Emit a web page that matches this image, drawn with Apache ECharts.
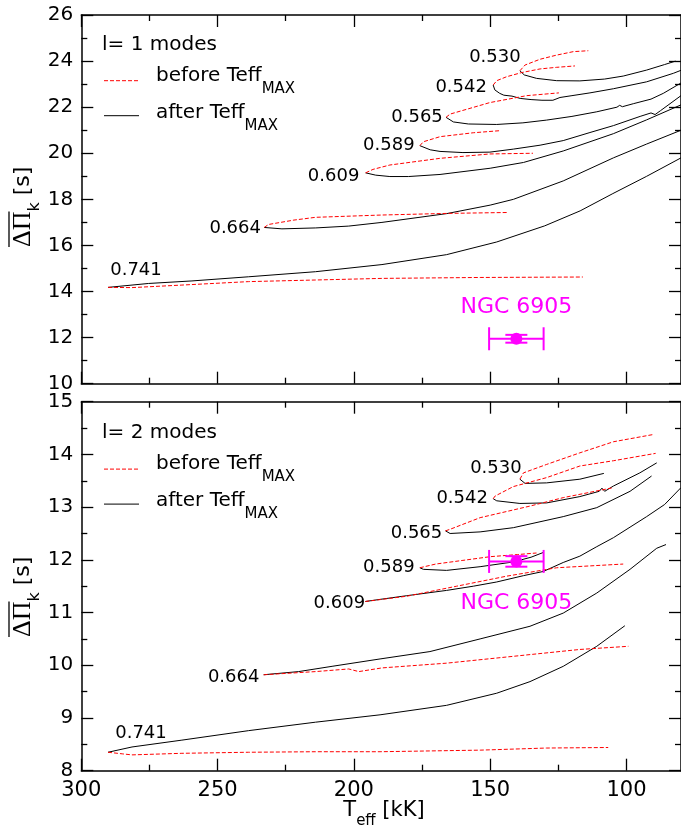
<!DOCTYPE html>
<html><head><meta charset="utf-8">
<script src="https://cdn.jsdelivr.net/npm/echarts@6/dist/echarts.min.js"></script>
<style>html,body{margin:0;padding:0;background:#fff}#c{width:681px;height:832px}</style>
</head><body><div id="c"></div>
<script>
// ---------- tick labels ----------
const xMajor = [100, 150, 200, 250, 300];
const xMinor = [125, 175, 225, 275];
const massLabels = ['0.530', '0.542', '0.565', '0.589', '0.609', '0.664', '0.741'];

// ---------- l = 1 (top panel): [Teff kK, mean period spacing s] ----------
const l1_530_before = [[139.1,23.58],[137.2,23.83],[131.7,24.08],[125.6,24.26],[119.5,24.41],[114,24.45]];
const l1_530_after  = [[139.1,23.58],[137.5,23.4],[133,23.25],[125.6,23.15],[117.1,23.14],[108,23.22],[101.2,23.35],[92.6,23.61],[86,23.85],[82,24.0]];
const l1_542_before = [[148.9,22.96],[147.6,23.15],[144,23.32],[138.5,23.5],[131.7,23.66],[125.6,23.73],[118.9,23.79]];
const l1_542_after  = [[148.9,22.96],[148.3,22.75],[146.5,22.6],[145,22.52],[142,22.48],[139,22.38],[135,22.33],[131,22.3],[127,22.3],[124.4,22.42],[120,22.5],[113.4,22.62],[104.8,22.8],[92.6,23.1],[82.8,23.47],[80,23.6]];
const l1_565_before = [[166.2,21.56],[164.7,21.7],[150.1,22.2],[136.6,22.5],[124.8,22.62]];
const l1_565_after  = [[166.2,21.56],[163.5,21.36],[158,21.27],[147.6,21.25],[138,21.32],[129.3,21.44],[120,21.6],[110.9,21.8],[103.5,22.0],[102.5,22.08],[101.5,22.02],[97.5,22.15],[91,22.35],[86.5,22.6],[80,23.05]];
const l1_589_before = [[175.8,20.33],[174.5,20.5],[168.4,20.72],[156.2,20.89],[146.4,20.98]];
const l1_589_after  = [[175.8,20.33],[172,20.15],[168.4,20.08],[160,20.03],[150.1,20.05],[141.5,20.18],[131.7,20.35],[123.2,20.55],[113.4,20.9],[104.8,21.2],[95,21.6],[91,21.75],[89.5,21.68],[87.5,21.85],[80,22.5]];
const l1_609_before = [[195.7,19.15],[193,19.3],[186.8,19.49],[168.4,19.78],[150.1,19.97],[134.3,20.0]];
const l1_609_after  = [[195.7,19.15],[192,19.05],[186.8,18.99],[180,18.99],[168.4,19.08],[150,19.35],[137.8,19.6],[123.2,20.1],[104.8,20.85],[92.6,21.45],[80,22.1]];
const l1_664_before = [[232.9,16.78],[231.3,16.91],[222,17.1],[214.1,17.22],[189.7,17.32],[166,17.39],[143.5,17.43]];
const l1_664_after  = [[232.9,16.78],[226.4,16.72],[214,16.76],[201.9,16.84],[189.7,17.0],[166,17.38],[150,17.75],[141.5,18.0],[123.2,18.8],[104.8,19.8],[92.6,20.4],[80,21.0]];
const l1_741_before = [[290.2,14.18],[281.4,14.17],[263.1,14.28],[238.6,14.43],[214.1,14.5],[189.7,14.57],[153.7,14.61],[116,14.63]];
const l1_741_after  = [[290.2,14.18],[275.3,14.35],[259.4,14.46],[238.6,14.64],[214.1,14.86],[189.7,15.17],[166,15.6],[147.6,16.15],[130,16.85],[117,17.5],[105,18.25],[92.6,19.0],[80,19.8]];

// ---------- l = 2 (bottom panel) ----------
const l2_530_before = [[139.1,13.53],[137.8,13.65],[129.3,13.81],[117.1,14.03],[104.8,14.24],[89.9,14.38]];
const l2_530_after  = [[139.1,13.53],[137.2,13.45],[129.3,13.46],[117.1,13.53],[108.3,13.64]];
const l2_542_before = [[148.9,13.16],[148.2,13.21],[141.5,13.39],[129.3,13.56],[117.1,13.78],[104.8,13.88],[89.3,14.02]];
const l2_542_after  = [[148.9,13.16],[147.6,13.12],[139.1,13.07],[129.3,13.08],[117.1,13.2],[110,13.3],[109,13.36],[108,13.3],[104.8,13.4],[95.1,13.65],[88.9,13.84]];
const l2_565_before = [[166.4,12.55],[164.7,12.58],[153.7,12.8],[135.4,13.02],[123.2,13.18],[104.8,13.37]];
const l2_565_after  = [[166.4,12.55],[164.7,12.5],[153.7,12.53],[141.5,12.61],[123.2,12.82],[110.9,12.99],[98.7,13.3],[90.8,13.59]];
const l2_589_before = [[175.8,11.85],[170,11.92],[160,11.99],[150,12.06],[140,12.1],[133,12.13]];
const l2_589_after  = [[175.8,11.85],[174.5,11.82],[166,11.8],[153.7,11.87],[141.5,11.96],[135,12.05],[130.5,12.14]];
const l2_609_before = [[195.8,11.21],[180.6,11.31],[162.3,11.5],[144,11.69],[125.6,11.85],[101.2,11.92]];
const l2_609_after  = [[195.8,11.21],[190.4,11.25],[180.6,11.32],[166,11.42],[156.2,11.5],[147.6,11.58],[137.8,11.7],[130.5,11.78],[123.2,11.95],[117.1,12.07],[110.9,12.25],[104.8,12.42],[98.7,12.62],[92.6,12.82],[86,13.05],[80,13.37]];
const l2_664_before = [[233.1,9.82],[214.1,9.88],[201.9,9.93],[198.2,9.88],[189.7,9.95],[166,10.04],[141.5,10.17],[117.1,10.3],[99.3,10.36]];
const l2_664_after  = [[233.1,9.82],[220.3,9.88],[208,9.98],[190.4,10.12],[172.1,10.26],[153.7,10.5],[135.4,10.74],[123.2,10.99],[110.9,11.37],[98.7,11.82],[88.9,12.22],[85.5,12.29]];
const l2_741_before = [[290.2,8.35],[285,8.32],[281.4,8.30],[263.1,8.33],[238.6,8.35],[214.1,8.36],[190.4,8.36],[153.7,8.39],[129.3,8.43],[106.7,8.44]];
const l2_741_after  = [[290.2,8.35],[281.4,8.45],[263.1,8.58],[238.6,8.76],[214.1,8.92],[190.4,9.06],[166,9.24],[147.6,9.47],[135.4,9.69],[123.2,9.98],[110.9,10.36],[100.6,10.75]];

// ---------- NGC 6905: [Teff, Teff error, period spacing, spacing error] ----------
const ngc_l1 = [140.4, 10, 11.95, 0.17];
const ngc_l2 = [140.4, 10, 11.97, 0.10];

// ---------- build ----------
const l1Before = [l1_530_before,l1_542_before,l1_565_before,l1_589_before,l1_609_before,l1_664_before,l1_741_before];
const l1After  = [l1_530_after,l1_542_after,l1_565_after,l1_589_after,l1_609_after,l1_664_after,l1_741_after];
const l2Before = [l2_530_before,l2_542_before,l2_565_before,l2_589_before,l2_609_before,l2_664_before,l2_741_before];
const l2After  = [l2_530_after,l2_542_after,l2_565_after,l2_589_after,l2_609_after,l2_664_after,l2_741_after];

// label placement (pixel offsets from the curve tip) - style only
const l1LabelOffset = [[-25,-13],[-32,2],[-29,0],[-31,0],[-32,3],[-29,1],[28,-17]];
const l2LabelOffset = [[-24,-11],[-31,0],[-29,2],[-31,0],[-26,2],[-30,3],[33,-19]];

const FONT = 'DejaVu Sans';
const chart = echarts.init(document.getElementById('c'), null, {renderer: 'canvas'});

const grids = [
  {left: 81.3, top: 15, width: 601.5, height: 368.7},
  {left: 81.3, top: 401.7, width: 601.5, height: 369}
];

function xAxes(g) {
  const base = {type: 'value', gridIndex: g, min: 80, max: 300, inverse: true, splitLine: {show: false}};
  const line = {show: true, onZero: false, lineStyle: {color: '#000', width: 1.5}};
  return [
    Object.assign({}, base, {position: 'bottom', axisLine: line,
      axisTick: {show: true, inside: true, length: 12, customValues: xMajor, lineStyle: {color: '#000', width: 1.3}},
      axisLabel: {show: g === 1, customValues: xMajor, margin: 9, color: '#000', fontSize: 21, fontFamily: FONT}}),
    Object.assign({}, base, {position: 'bottom', axisLine: {show: false, onZero: false},
      axisTick: {show: true, inside: true, length: 6, customValues: xMinor, lineStyle: {color: '#000', width: 1.3}},
      axisLabel: {show: false}}),
    Object.assign({}, base, {position: 'top', axisLine: line,
      axisTick: {show: true, inside: true, length: 12, customValues: xMajor, lineStyle: {color: '#000', width: 1.3}},
      axisLabel: {show: false}}),
    Object.assign({}, base, {position: 'top', axisLine: {show: false, onZero: false},
      axisTick: {show: true, inside: true, length: 6, customValues: xMinor, lineStyle: {color: '#000', width: 1.3}},
      axisLabel: {show: false}})
  ];
}
function yAxes(g, min, max, interval) {
  const base = {type: 'value', gridIndex: g, min: min, max: max, interval: interval, splitLine: {show: false},
    axisLine: {show: true, onZero: false, lineStyle: {color: '#000', width: 1.5}},
    axisTick: {show: true, inside: true, length: 12, lineStyle: {color: '#000', width: 1.3}},
    minorTick: {show: true, splitNumber: 2, length: 6, lineStyle: {color: '#000', width: 1.3}}};
  return [
    Object.assign({}, base, {position: 'left', axisLabel: {show: true, margin: 8, color: '#000', fontSize: 20, fontFamily: FONT}}),
    Object.assign({}, base, {position: 'right', axisLabel: {show: false}})
  ];
}

const series = [];
function addPanel(before, after, offsets, xi, yi, ngc, ngcLabelDy) {
  before.forEach(d => series.push({type: 'line', xAxisIndex: xi, yAxisIndex: yi, data: d, showSymbol: false, symbol: 'none',
    lineStyle: {color: '#ff0000', width: 1, type: [4, 2]}, z: 3, silent: true}));
  after.forEach(d => series.push({type: 'line', xAxisIndex: xi, yAxisIndex: yi, data: d, showSymbol: false, symbol: 'none',
    lineStyle: {color: '#000', width: 1}, z: 2, silent: true}));
  series.push({type: 'scatter', xAxisIndex: xi, yAxisIndex: yi, symbolSize: 0, silent: true,
    itemStyle: {color: '#000', opacity: 1},
    data: massLabels.map((m, i) => ({name: m, value: after[i][0], label: {offset: offsets[i]}})),
    label: {show: true, position: 'inside', formatter: '{b}', color: '#000', opacity: 1, textBorderWidth: 0,
      fontSize: 18, fontFamily: FONT}});
  series.push({type: 'custom', xAxisIndex: xi, yAxisIndex: yi, data: [ngc], z: 5, silent: true,
    renderItem: function (params, api) {
      const t = api.value(0), te = api.value(1), p = api.value(2), pe = api.value(3);
      const c = api.coord([t, p]);
      const l = api.coord([t + te, p]), r = api.coord([t - te, p]);
      const up = api.coord([t, p + pe]), dn = api.coord([t, p - pe]);
      const st = {stroke: '#ff00ff', lineWidth: 2};
      return {type: 'group', children: [
        {type: 'line', shape: {x1: l[0], y1: c[1], x2: r[0], y2: c[1]}, style: st},
        {type: 'line', shape: {x1: l[0], y1: c[1] - 11.5, x2: l[0], y2: c[1] + 11.5}, style: st},
        {type: 'line', shape: {x1: r[0], y1: c[1] - 11.5, x2: r[0], y2: c[1] + 11.5}, style: st},
        {type: 'line', shape: {x1: c[0], y1: up[1], x2: c[0], y2: dn[1]}, style: st},
        {type: 'line', shape: {x1: c[0] - 11, y1: up[1], x2: c[0] + 11, y2: up[1]}, style: st},
        {type: 'line', shape: {x1: c[0] - 11, y1: dn[1], x2: c[0] + 11, y2: dn[1]}, style: st},
        {type: 'circle', shape: {cx: c[0], cy: c[1], r: 6}, style: {fill: '#ff00ff'}},
        {type: 'text', x: c[0], y: c[1] + ngcLabelDy, style: {text: 'NGC 6905', fill: '#ff00ff', fontSize: 22, fontFamily: FONT, align: 'center', verticalAlign: 'middle'}}
      ]};
    }});
}
addPanel(l1Before, l1After, l1LabelOffset, 0, 0, ngc_l1, -31);
addPanel(l2Before, l2After, l2LabelOffset, 4, 2, ngc_l2, 42);

// legends and axis titles (graphic)
const subRich = {
  a: {fontSize: 20, fontFamily: FONT, lineHeight: 22, verticalAlign: 'top', fill: '#000'},
  s: {fontSize: 15, fontFamily: FONT, lineHeight: 15, padding: [16, 0, 0, 0], verticalAlign: 'top', fill: '#000'}
};
function legend(title, y0) {
  return [
    {type: 'text', x: 102, y: y0, style: {text: title, fontSize: 20, fontFamily: FONT, fill: '#000', verticalAlign: 'middle'}},
    {type: 'line', shape: {x1: 104, y1: y0 + 36.4, x2: 139, y2: y0 + 36.4}, style: {stroke: '#ff0000', lineWidth: 1, lineDash: [4, 2]}},
    {type: 'text', x: 156, y: y0 + 21, style: {text: '{a|before Teff}{s|MAX}', rich: subRich, verticalAlign: 'top'}},
    {type: 'line', shape: {x1: 104, y1: y0 + 71.4, x2: 139, y2: y0 + 71.4}, style: {stroke: '#000', lineWidth: 1}},
    {type: 'text', x: 156, y: y0 + 58, style: {text: '{a|after Teff}{s|MAX}', rich: subRich, verticalAlign: 'top'}}
  ];
}

const mc = document.createElement('canvas').getContext('2d');
mc.font = '26px "Liberation Serif"';
const dpW = mc.measureText('ΔΠ').width;
function yTitle(x, yStart) {
  return {type: 'group', x: x, y: yStart, rotation: Math.PI / 2, children: [
    {type: 'text', x: 0, y: 0, style: {text: '{g|ΔΠ}{k|k}{s| [s]}', verticalAlign: 'middle', align: 'left', rich: {
      g: {fontSize: 26, fontFamily: 'Liberation Serif', fill: '#000', lineHeight: 28, verticalAlign: 'top'},
      k: {fontSize: 16, fontFamily: FONT, fill: '#000', lineHeight: 16, padding: [17, 0, 0, 0], verticalAlign: 'top'},
      s: {fontSize: 22, fontFamily: FONT, fill: '#000', lineHeight: 24, padding: [2, 0, 0, 0], verticalAlign: 'top'}
    }}},
    {type: 'line', shape: {x1: 0, y1: -15, x2: dpW, y2: -15}, style: {stroke: '#000', lineWidth: 1.3}}
  ]};
}

const graphic = [].concat(legend('l= 1 modes', 44.3), legend('l= 2 modes', 432.7), [
  yTitle(24, 247), yTitle(24, 637),
  {type: 'text', x: 384, y: 812, style: {text: '{a|T}{e|eff}{a| [kK]}', align: 'center', verticalAlign: 'middle', rich: {
    a: {fontSize: 21, fontFamily: FONT, fill: '#000', lineHeight: 23, verticalAlign: 'top'},
    e: {fontSize: 15, fontFamily: FONT, fill: '#000', lineHeight: 15, padding: [13, 0, 0, 0], verticalAlign: 'top'}
  }}}
]);

chart.setOption({
  animation: false,
  backgroundColor: '#fff',
  textStyle: {fontFamily: FONT},
  grid: grids,
  xAxis: [].concat(xAxes(0), xAxes(1)),
  yAxis: [].concat(yAxes(0, 10, 26, 2), yAxes(1, 8, 15, 1)),
  series: series,
  graphic: graphic
});
</script></body></html>
